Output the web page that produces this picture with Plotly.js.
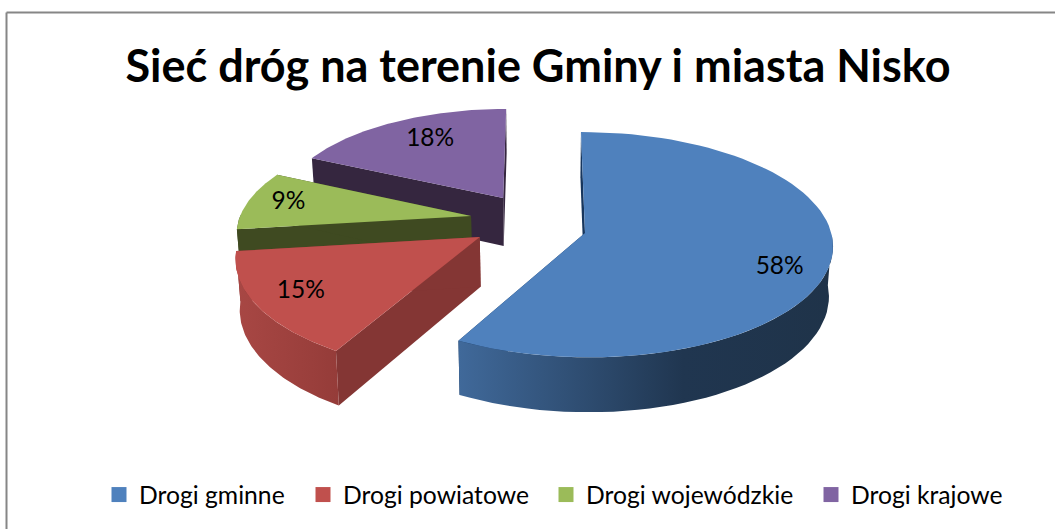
<!DOCTYPE html>
<html><head><meta charset="utf-8">
<script src="https://cdn.plot.ly/plotly-3.0.1.min.js"></script>
<style>html,body{margin:0;padding:0;background:#fff}#c{width:1055px;height:529px}</style>
</head><body><div id="c"></div>
<script>
// Data
const categories = ["Drogi gminne","Drogi powiatowe","Drogi wojewódzkie","Drogi krajowe"];
const values = [58,15,9,18];
const chartTitle = "Sieć dróg na terenie Gminy i miasta Nisko";

// Style
const topColors = ["#4f81bd","#c0504d","#9bbb59","#8064a2"];
const cutColors = ["#17365d","#843634","#3f4a21","#35263f"];
const wallScales = [
  [[0,"#40699a"],[0.6,"#203650"],[1,"#1f3349"]],
  [[0,"#a84744"],[1,"#953c39"]],
  [[0,"#3f4a21"],[1,"#3f4a21"]],
  [[0,"#4d3c61"],[1,"#4d3c61"]]
];

// 3D projection of the exploded pie
const apexX = [45,-60,-70,-38], apexY = [0,9,-38,-80];
const radiusStart = [245,259,236,228], radiusEnd = [248,241,229,228];
const labelR = [.82,.81,.82,.73], labelShift = [7.6,0,0,3];
const cx = 540, horizon = -898, y0 = 233, W = 2500, depth = 49.5;
function project(X,Y,z){
  const s = 1/(1-Y/W);
  const k = 1-0.014*(z?1:0);
  return [cx+X*s*k, horizon+(y0-horizon)*s+(z?depth*s:0)];
}
const total = values.reduce((a,b)=>a+b,0);
const rad = d=>d*Math.PI/180;
function world(i,deg,r){ return [apexX[i]+r*Math.sin(rad(deg)), apexY[i]-r*Math.cos(rad(deg))]; }

const traces = [];
function poly(pts,style){
  traces.push(Object.assign({type:"scatter",mode:"lines",x:pts.map(p=>p[0]),y:pts.map(p=>p[1]),
    fill:"toself",line:{width:0},showlegend:false,hoverinfo:"skip"},style));
}
const starts=[]; let acc=0;
values.forEach(v=>{starts.push(acc);acc+=v/total*360;});
const labelX=[],labelY=[],labelT=[];
// back-to-front: krajowe, wojewódzkie, powiatowe, gminne
[3,2,1,0].forEach(i=>{
  const a0=starts[i], a1=a0+values[i]/total*360;
  const arc=[],arcB=[];
  for(let n=0;n<=80;n++){
    const d=a0+(a1-a0)*n/80;
    const w=world(i,d,radiusStart[i]+(radiusEnd[i]-radiusStart[i])*n/80);
    arc.push(project(w[0],w[1],false));
    if(Math.cos(rad(d))<=0.02) arcB.push([project(w[0],w[1],false),project(w[0],w[1],true)]);
  }
  const A=project(apexX[i],apexY[i],false),Az=project(apexX[i],apexY[i],true);
  const w0=world(i,a0,radiusStart[i]),w1=world(i,a1,radiusEnd[i]);
  [w0,w1].forEach(w=>{
    poly([A,project(w[0],w[1],false),project(w[0],w[1],true),Az,A],{fillcolor:cutColors[i]});
  });
  if(arcB.length>1){
    const wall=arcB.map(p=>p[0]).concat(arcB.map(p=>p[1]).reverse());
    wall.push(wall[0]);
    poly(wall,{fillgradient:{type:"horizontal",colorscale:wallScales[i]}});
  }
  poly([A].concat(arc,[A]),{fillcolor:topColors[i]});
  const lw=world(i,(a0+a1)/2+labelShift[i],(radiusStart[i]+radiusEnd[i])/2*labelR[i]);
  const lp=project(lw[0],lw[1],false);
  labelX.push(lp[0]);labelY.push(lp[1]);labelT.push(Math.round(values[i]/total*100)+"%");
});
traces.push({type:"scatter",mode:"text",x:labelX,y:labelY,text:labelT,textposition:"middle center",
  textfont:{family:"Lato, sans-serif",size:24.5,color:"#000"},showlegend:false,hoverinfo:"skip"});

// Legend: one square swatch per category
const legendLeft=[99,303,546,811];
const layoutLegends={};
categories.forEach((c,i)=>{
  const key=i===0?"legend":"legend"+(i+1);
  traces.push({type:"scatter",mode:"markers",x:[null],y:[null],name:c,showlegend:true,legend:key,
    marker:{symbol:"square",size:15,color:topColors[i]}});
  layoutLegends[key]={x:legendLeft[i]/1055,y:1-495/529,xanchor:"left",yanchor:"middle",
    orientation:"h",bgcolor:"rgba(0,0,0,0)",borderwidth:0,
    font:{family:"Lato, sans-serif",size:24.7,color:"#000"}};
});

const layout=Object.assign({
  width:1055,height:529,margin:{l:0,r:0,t:0,b:0},paper_bgcolor:"#fff",plot_bgcolor:"#fff",
  xaxis:{range:[0,1055],visible:false,fixedrange:true},
  yaxis:{range:[529,0],visible:false,fixedrange:true},
  title:{text:"<b>"+chartTitle+"</b>",x:538/1055,xanchor:"center",y:1-66/529,yanchor:"middle",
    font:{family:"Lato, sans-serif",size:45,color:"#000"}},
  shapes:[
    {type:"line",xref:"paper",yref:"paper",x0:6.5/1055,x1:1,y0:1-12.5/529,y1:1-12.5/529,line:{color:"#868686",width:2}},
    {type:"line",xref:"paper",yref:"paper",x0:6.5/1055,x1:6.5/1055,y0:0,y1:1-12.5/529,line:{color:"#868686",width:2}}
  ],
  showlegend:true
},layoutLegends);
Plotly.newPlot("c",traces,layout,{displayModeBar:false,staticPlot:true});
</script></body></html>
